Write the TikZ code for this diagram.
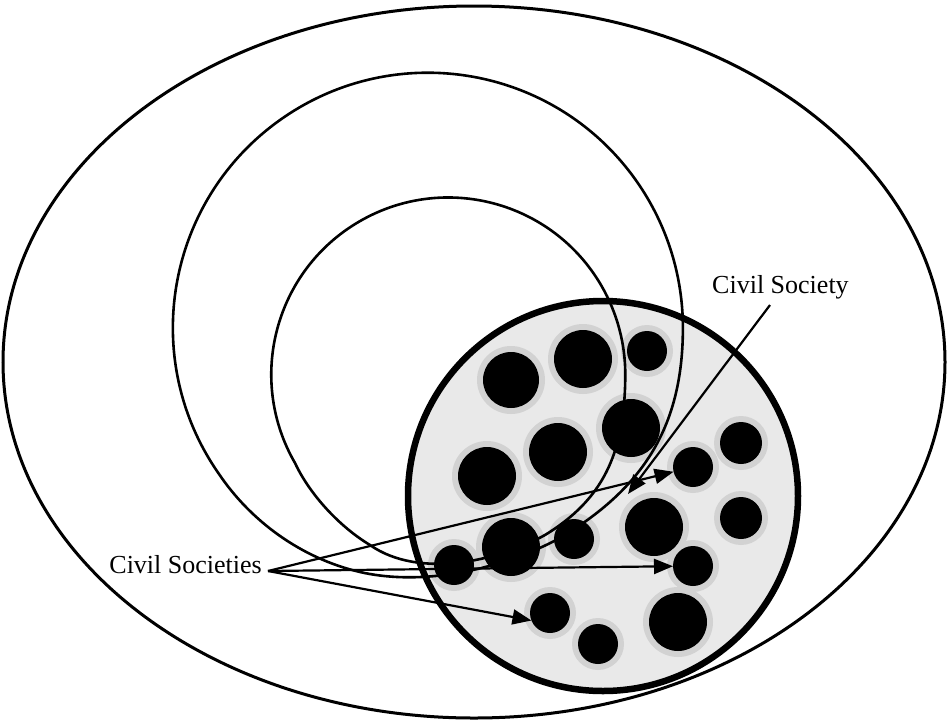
\documentclass[tikz,border=0pt]{standalone}
\usepackage{fontspec}
\setmainfont{Liberation Serif}
\usetikzlibrary{arrows.meta}
\begin{document}
\begin{tikzpicture}[x=1pt,y=-1pt,
  curve/.style={line width=2.6pt, line join=round},
  blob/.style={circle, fill=black, inner sep=0pt, outer sep=0pt, draw=none},
  pointer/.style={line width=2.2pt, -{Triangle[length=19pt,width=15pt]}},
  lbl/.style={font=\fontsize{26}{30}\selectfont, inner sep=0pt}]
\useasboundingbox (0,0) rectangle (948,724);
% outer ellipse
\draw[line width=3pt] (474,362) ellipse [x radius=471, y radius=356];
% civil society disc
\fill[gray!17] (603,496) circle[radius=195];
\foreach \x/\y/\r in {511/380/28,583/359/29,647/351/20,631/428/29,558/452/29,487/476/29,741/443/21,693/467/20,654/527/29,741/518/21,511/547/29,574/539/20,454/565/20,693/566/20,550/613/20,598/644/20,678/622/29}
  \fill[gray!35] (\x,\y) circle[radius=\r+6];
\foreach \n/\x/\y/\r in {1/511/380/28,2/583/359/29,3/647/351/20,4/631/428/29,5/558/452/29,6/487/476/29,7/741/443/21,8/693/467/20,9/654/527/29,10/741/518/21,11/511/547/29,12/574/539/20,13/454/565/20,14/693/566/20,15/550/613/20,16/598/644/20,17/678/622/29}
  \node[blob, minimum size={2*\r*1pt}] (b\n) at (\x,\y) {};
% inner loop
\draw[curve] (295,463) arc[start angle=150, end angle=360, radius=177]
  .. controls (625,455) and (602,500) .. (545,535)
  .. controls (500,560) and (420,580) .. (370,545)
  .. controls (340,527) and (310,495) .. (295,463) -- cycle;
% middle loop
\draw[curve] (219,474) arc[start angle=145, end angle=360, radius=255]
  .. controls (683,430) and (640,490) .. (560,538)
  .. controls (510,565) and (430,588) .. (360,572)
  .. controls (300,558) and (250,520) .. (219,474) -- cycle;
% disc border
\draw[line width=6.5pt] (603,496) circle[radius=195];
% labels
\node[lbl, anchor=base east] (css) at (262,573) {Civil Societies};
\node[lbl, anchor=base west] (cs) at (712,293) {Civil Society};
\coordinate (v) at (268,571);
\coordinate (cs0) at (770,305);
\coordinate (cstip) at (628,494);
\draw[pointer] (v) -- (b8);
\draw[pointer] (v) -- (b14);
\draw[pointer] (v) -- (b15.202);
\draw[pointer] (cs0) -- (cstip);
\end{tikzpicture}
\end{document}
